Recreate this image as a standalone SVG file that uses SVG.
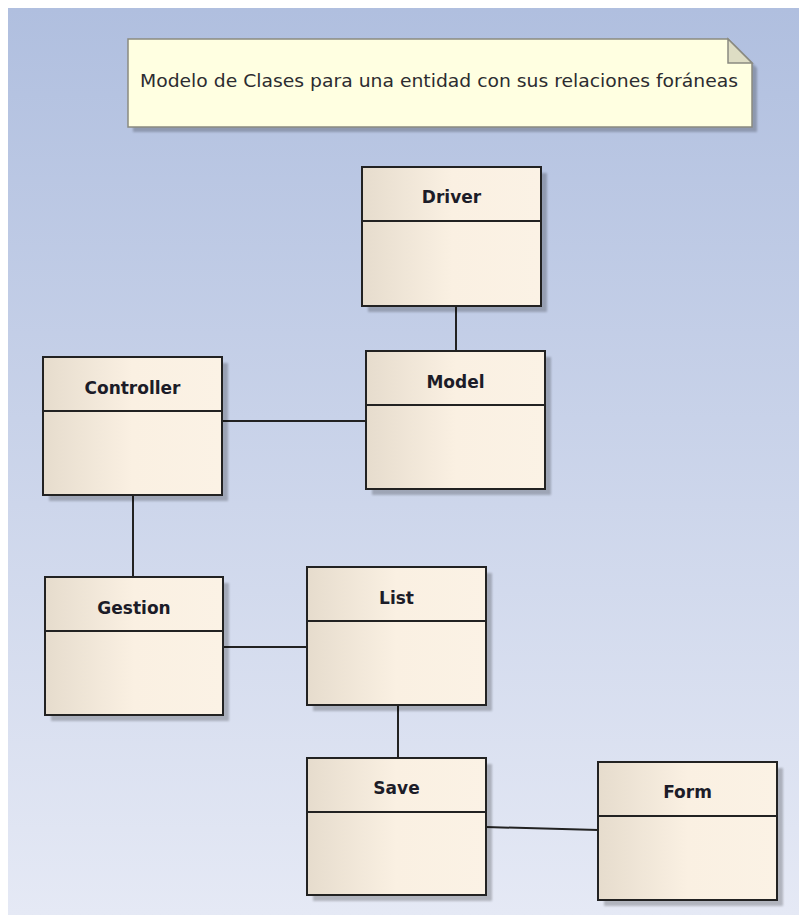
<svg xmlns="http://www.w3.org/2000/svg" width="799" height="917" viewBox="0 0 799 917">
<defs>
<linearGradient id="bg" x1="0" y1="0" x2="0" y2="1">
<stop offset="0" stop-color="#b0bfdf"/>
<stop offset="1" stop-color="#e5e9f5"/>
</linearGradient>
<linearGradient id="cls" x1="0" y1="0" x2="1" y2="0">
<stop offset="0" stop-color="#e6dccd"/>
<stop offset="0.5" stop-color="#faf0e2"/>
<stop offset="1" stop-color="#fbf2e5"/>
</linearGradient>
<filter id="blur" x="-10%" y="-10%" width="120%" height="120%">
<feGaussianBlur stdDeviation="1.2"/>
</filter>
</defs>
<style>
.shadow{fill:#000;opacity:0.22;filter:url(#blur)}
.box{fill:url(#cls);stroke:#222;stroke-width:2}
.div{stroke:#222;stroke-width:2}
.lbl{font-family:"DejaVu Sans",sans-serif;font-weight:bold;font-size:17px;fill:#1c1c28;text-anchor:middle}
.conn line{stroke:#222;stroke-width:2}
.note{fill:#ffffe1;stroke:#8a8a80;stroke-width:1.5}
.fold{fill:#deddc4;stroke:#8a8a80;stroke-width:1.5}
.ntext{font-family:"DejaVu Sans",sans-serif;font-size:17px;fill:#2c2c30}
</style>
<rect x="0" y="0" width="799" height="917" fill="#ffffff"/>
<rect x="8" y="8" width="791" height="907" fill="url(#bg)"/>

<g id="note">
<path class="shadow" d="M133 44 H733 L757 68 V132 H133 Z"/>
<path class="note" d="M128 39 H728 L752 63 V127 H128 Z"/>
<path class="fold" d="M728 39 V63 H752 Z"/>
<text class="ntext" x="140" y="87" textLength="598" lengthAdjust="spacingAndGlyphs">Modelo de Clases para una entidad con sus relaciones foráneas</text>
</g>

<g class="conn" id="connectors">
<line x1="456" y1="306" x2="456" y2="351"/>
<line x1="222" y1="421" x2="366" y2="421"/>
<line x1="133" y1="495" x2="133" y2="577"/>
<line x1="223" y1="647" x2="307" y2="647"/>
<line x1="398" y1="705" x2="398" y2="758"/>
<line x1="486" y1="827" x2="598" y2="830"/>
</g>

<g id="Driver">
<rect class="shadow" x="368" y="173" width="179" height="139"/>
<rect class="box" x="362" y="167" width="179" height="139"/>
<line class="div" x1="362" y1="221" x2="541" y2="221"/>
<text class="lbl" x="451.5" y="203">Driver</text>
</g>

<g id="Controller">
<rect class="shadow" x="49" y="363" width="179" height="138"/>
<rect class="box" x="43" y="357" width="179" height="138"/>
<line class="div" x1="43" y1="411" x2="222" y2="411"/>
<text class="lbl" x="132.5" y="394">Controller</text>
</g>

<g id="Model">
<rect class="shadow" x="372" y="357" width="179" height="138"/>
<rect class="box" x="366" y="351" width="179" height="138"/>
<line class="div" x1="366" y1="405" x2="545" y2="405"/>
<text class="lbl" x="455.5" y="388">Model</text>
</g>

<g id="Gestion">
<rect class="shadow" x="51" y="583" width="178" height="138"/>
<rect class="box" x="45" y="577" width="178" height="138"/>
<line class="div" x1="45" y1="631" x2="223" y2="631"/>
<text class="lbl" x="134" y="614">Gestion</text>
</g>

<g id="List">
<rect class="shadow" x="313" y="573" width="179" height="138"/>
<rect class="box" x="307" y="567" width="179" height="138"/>
<line class="div" x1="307" y1="621" x2="486" y2="621"/>
<text class="lbl" x="396.5" y="604">List</text>
</g>

<g id="Save">
<rect class="shadow" x="313" y="764" width="179" height="137"/>
<rect class="box" x="307" y="758" width="179" height="137"/>
<line class="div" x1="307" y1="812" x2="486" y2="812"/>
<text class="lbl" x="396.5" y="794">Save</text>
</g>

<g id="Form">
<rect class="shadow" x="604" y="768" width="179" height="138"/>
<rect class="box" x="598" y="762" width="179" height="138"/>
<line class="div" x1="598" y1="816" x2="777" y2="816"/>
<text class="lbl" x="687.5" y="798">Form</text>
</g>
</svg>
